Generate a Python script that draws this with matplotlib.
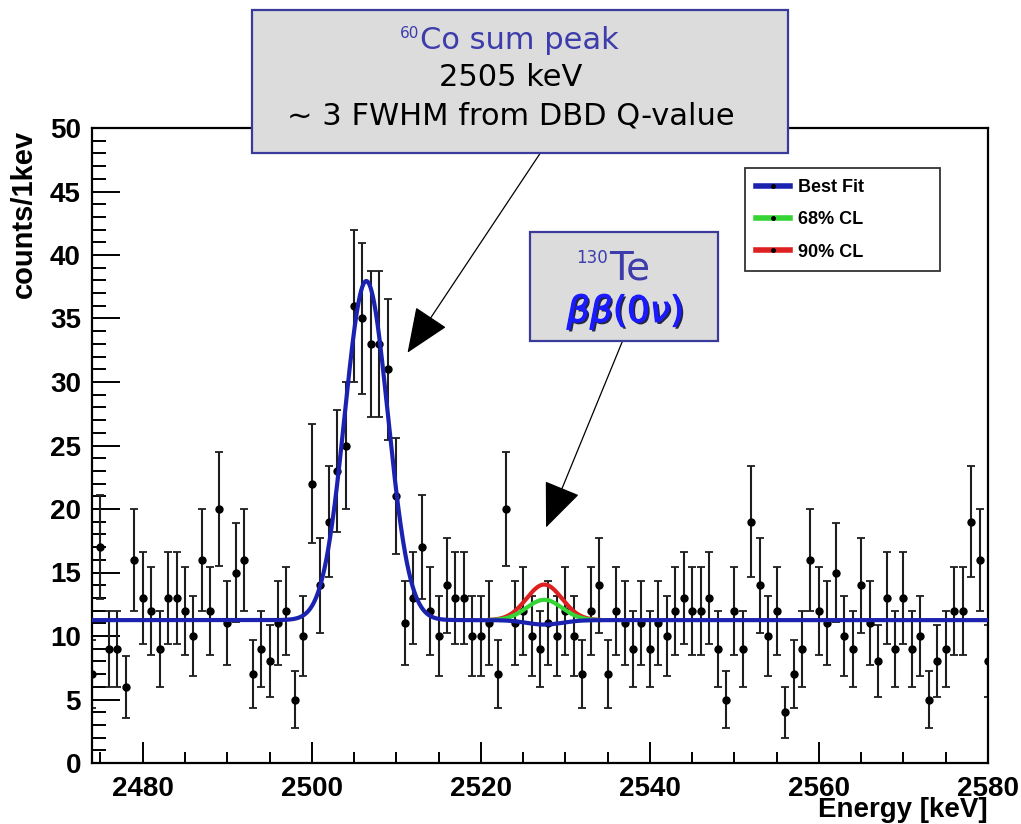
import numpy as np
import matplotlib
matplotlib.use("Agg")
import matplotlib.pyplot as plt
import matplotlib.patheffects as pe
from matplotlib.patches import Rectangle, FancyArrowPatch
from matplotlib.lines import Line2D
from matplotlib.ticker import MultipleLocator

plt.rcParams['font.family'] = ['Liberation Sans', 'DejaVu Sans']

# spectrum, 1 keV bins
energy = np.arange(2474, 2581)
counts = [7, 17, 9, 9, 6, 16, 13, 12, 9, 13,
          13, 12, 10, 16, 12, 20, 11, 15, 16, 7,
          9, 8, 11, 12, 5, 10, 22, 14, 19, 23,
          25, 36, 35, 33, 33, 31, 21, 11, 13, 17,
          12, 10, 14, 13, 13, 10, 10, 11, 7, 20,
          11, 12, 10, 9, 11, 10, 12, 10, 7, 12,
          14, 7, 12, 11, 9, 11, 9, 11, 10, 12,
          13, 12, 12, 13, 9, 5, 12, 9, 19, 14,
          10, 12, 4, 7, 9, 16, 12, 11, 15, 10,
          9, 14, 11, 8, 13, 9, 13, 9, 10, 5,
          8, 9, 12, 12, 19, 16, 8]

# fit: flat background + 60Co sum peak + 0vbb peak
bkg = 11.25
co_mean, co_amp, co_sigma = 2506.45, 26.7, 2.55
dbd_mean, dbd_sigma = 2527.5, 2.1
fit_labels = ["Best Fit", "68% CL", "90% CL"]
fit_amps = [-0.35, 1.6, 2.8]
fit_colors = ["#1c22b0", "#35d535", "#dd2020"]
cl_range = (2521, 2534)


def model(e, amp):
    return (bkg + co_amp * np.exp(-0.5 * ((e - co_mean) / co_sigma) ** 2)
            + amp * np.exp(-0.5 * ((e - dbd_mean) / dbd_sigma) ** 2))


W, H = 1021, 824
fig = plt.figure(figsize=(W / 100, H / 100), dpi=100)
ax = fig.add_axes([92 / W, 1 - 763 / H, (988 - 92) / W, (763 - 128) / H])

ax.errorbar(energy, counts, yerr=np.sqrt(counts), fmt='o', color='k',
            ecolor='#1e1e1e', ms=5, elinewidth=1.5, capsize=3, capthick=1.3,
            zorder=2)

e_full = np.linspace(energy[0], energy[-1], 1500)
e_cl = np.linspace(cl_range[0], cl_range[1], 300)
# red under green under blue
ax.plot(e_cl, model(e_cl, fit_amps[2]), color=fit_colors[2], lw=3, zorder=3)
ax.plot(e_cl, model(e_cl, fit_amps[1]), color=fit_colors[1], lw=3, zorder=4)
ax.plot(e_full, model(e_full, fit_amps[0]), color=fit_colors[0], lw=3, zorder=5)

ax.set_xlim(energy[0], energy[-1])
ax.set_ylim(0, 50)
ax.xaxis.set_major_locator(MultipleLocator(20))
ax.xaxis.set_minor_locator(MultipleLocator(5))
ax.yaxis.set_major_locator(MultipleLocator(5))
ax.yaxis.set_minor_locator(MultipleLocator(1))
ax.tick_params(which='both', direction='in', top=False, right=False, width=1.4,
               labelsize=20)
ax.tick_params(axis='x', which='major', length=15, pad=9)
ax.tick_params(axis='x', which='minor', length=8)
ax.tick_params(axis='y', which='major', length=20, pad=8)
ax.tick_params(axis='y', which='minor', length=10)
for lab in ax.get_xticklabels() + ax.get_yticklabels():
    lab.set_fontweight('bold')
for sp in ax.spines.values():
    sp.set_linewidth(1.6)

ax.set_xlabel("Energy [keV]", fontsize=20, fontweight='bold', ha='right')
ax.xaxis.set_label_coords(1.0, -0.054)
ax.set_ylabel("counts/1kev", fontsize=21, fontweight='bold', ha='right')
ax.yaxis.set_label_coords(-0.06, 0.997)

handles = [Line2D([], [], color=c, lw=4, marker='o', ms=2.5,
                  mfc='k', mec='k') for c in fit_colors]
leg = ax.legend(handles, fit_labels, loc='upper left', mode='expand',
                bbox_to_anchor=(0.729, 0.773, 0.217, 0.164),
                prop={'weight': 'bold', 'size': 13},
                frameon=True, fancybox=False, edgecolor='k',
                handlelength=1.9, labelspacing=0.85, borderpad=0.6,
                handletextpad=0.45, borderaxespad=0)
leg.get_frame().set_linewidth(1.3)
leg.set_zorder(10)


def fx(x):
    return x / W


def fy(y):
    return 1 - y / H


box_fc = '#dcdcdc'
box_ec = '#3a3a9c'
label_blue = '#3c3cab'

# arrows from the boxes to the peaks
for (x0, y0), (x1, y1) in [((547, 143), (406, 355)), ((625, 335), (545, 530))]:
    arr = FancyArrowPatch((fx(x0), fy(y0)), (fx(x1), fy(y1)),
                          transform=fig.transFigure,
                          arrowstyle='-|>,head_length=1.2,head_width=0.5',
                          mutation_scale=24, color='k', lw=0.9, zorder=6)
    fig.add_artist(arr)

# 60Co box
fig.add_artist(Rectangle((fx(252), fy(153)), (788 - 252) / W, (153 - 10) / H,
                         transform=fig.transFigure, fc=box_fc, ec=box_ec,
                         lw=1.6, zorder=7))
fig.text(fx(419), fy(38), "60", family='DejaVu Sans', fontsize=11,
         color=label_blue, ha='right', va='baseline', zorder=8)
fig.text(fx(420), fy(49), "Co sum peak", family='DejaVu Sans',
         fontsize=22, color=label_blue, ha='left', va='baseline', zorder=8)
fig.text(fx(511), fy(86), "2505 keV", family='DejaVu Sans',
         fontsize=22, color='k', ha='center', va='baseline', zorder=8)
fig.text(fx(511), fy(124), "~ 3 FWHM from DBD Q-value", family='DejaVu Sans',
         fontsize=22, color='k', ha='center', va='baseline', zorder=8)

# 130Te box
fig.add_artist(Rectangle((fx(530), fy(341)), (718 - 530) / W, (341 - 232) / H,
                         transform=fig.transFigure, fc=box_fc, ec=box_ec,
                         lw=1.6, zorder=7))
fig.text(fx(608), fy(263), "130", family='DejaVu Sans', fontsize=12,
         color=label_blue, ha='right', va='baseline', zorder=8)
fig.text(fx(609), fy(279), "Te", family='DejaVu Sans', fontsize=28,
         color=label_blue, ha='left', va='baseline', zorder=8)
fig.text(fx(625), fy(322), r"$\beta\beta(0\nu)$", fontsize=26,
         color='#1a1aff', ha='center', va='baseline', zorder=8,
         path_effects=[pe.SimplePatchShadow(offset=(1.5, -1.5),
                                            shadow_rgbFace='#101030', alpha=0.9),
                       pe.withStroke(linewidth=0.8, foreground='#1a1aff')])

fig.savefig("out.png", dpi=100)
